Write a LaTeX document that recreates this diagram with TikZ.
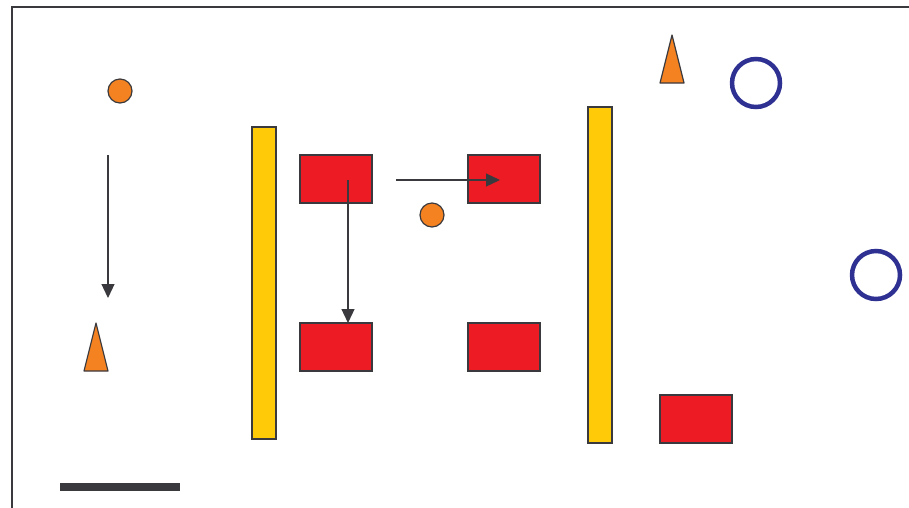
\documentclass[tikz,border=0pt]{standalone}
\usetikzlibrary{arrows.meta}
\definecolor{cOrange}{HTML}{F58220}
\definecolor{cRed}{HTML}{ED1C24}
\definecolor{cYellow}{HTML}{FFCB08}
\definecolor{cBlue}{HTML}{2E3192}
\definecolor{cDark}{HTML}{3A3A3E}
\tikzset{
  redbox/.style={draw=cDark,line width=1.2pt,fill=cRed,minimum width=72pt,minimum height=48pt,inner sep=0pt,outer sep=0pt},
  yellowbar/.style={draw=cDark,line width=1.2pt,fill=cYellow,inner sep=0pt,outer sep=0pt},
  dot/.style={circle,draw=cDark,line width=1.2pt,fill=cOrange,minimum size=24pt,inner sep=0pt},
  ring/.style={circle,draw=cBlue,line width=4.5pt,minimum size=48pt,inner sep=0pt},
  cone/.style={draw=cDark,line width=1.2pt,fill=cOrange,line join=round},
  conn/.style={draw=cDark,line width=1.2pt,-{Triangle[length=14pt,width=13pt]}}
}
\begin{document}
\begin{tikzpicture}[x=1pt,y=-1pt]
\useasboundingbox (0,0) rectangle (909,507);
% frame
\draw[cDark,line width=2pt] (12,520) -- (12,7) -- (920,7);
% yellow bars
\node[yellowbar,minimum width=24pt,minimum height=312pt] (bar1) at (264,283) {};
\node[yellowbar,minimum width=24pt,minimum height=336pt] (bar2) at (600,275) {};
% red boxes
\node[redbox] (ra) at (336,179) {};
\node[redbox] (rb) at (504,179) {};
\node[redbox] (rc) at (336,347) {};
\node[redbox] (rd) at (504,347) {};
\node[redbox] (re) at (696,419) {};
% dots
\node[dot] (d1) at (120,91) {};
\node[dot] (d2) at (432,215) {};
% rings
\node[ring] (c1) at (756,83) {};
\node[ring] (c2) at (876,275) {};
% cones
\coordinate (t1) at (96,347);
\draw[cone] (84,371) -- (96,323) -- (108,371) -- cycle;
\coordinate (t2) at (672,59);
\draw[cone] (660,83) -- (672,35) -- (684,83) -- cycle;
% connectors
\coordinate (a1s) at (108,155);
\coordinate (a1e) at (108,298);
\draw[conn] (a1s) -- (a1e);
\coordinate (a2s) at (348,180);
\coordinate (a2e) at (348,323);
\draw[conn] (a2s) -- (a2e);
\coordinate (a3s) at (396,180);
\coordinate (a3e) at (500,180);
\draw[conn] (a3s) -- (a3e);
% scale bar
\coordinate (sb1) at (60,487);
\coordinate (sb2) at (180,487);
\draw[cDark,line width=8pt] (sb1) -- (sb2);
\end{tikzpicture}
\end{document}
